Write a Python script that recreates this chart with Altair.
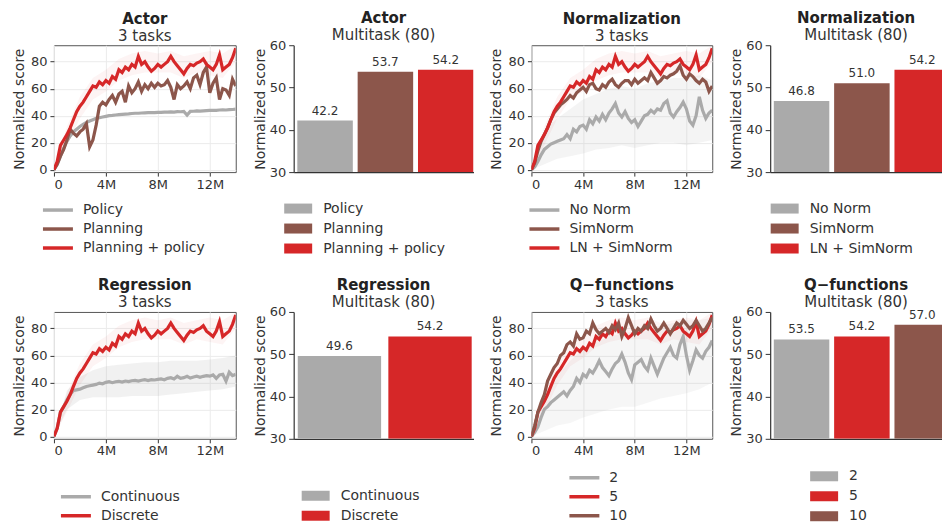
import altair as alt
import pandas as pd

FONT = "DejaVu Sans"
GREY = "#aaaaaa"
BROWN = "#8c564b"
RED = "#d62728"
TXT = "#333333"

# ---- x sampling (millions of steps) ----
T = [0, 0.25, 0.5, 0.75, 1, 1.25, 1.5, 1.75, 2, 2.25, 2.5, 2.75, 3, 3.25, 3.5, 3.75,
     4, 4.25, 4.5, 4.75, 5, 5.25, 5.5, 5.75, 6, 6.25, 6.5, 6.75, 7, 7.25, 7.5, 7.75,
     8, 8.25, 8.5, 8.75, 9, 9.25, 9.5, 9.75, 10, 10.25, 10.5, 10.75, 11, 11.25, 11.5, 11.75,
     12, 12.25, 12.5, 12.75, 13, 13.25, 13.5, 13.75, 14]
BAND_T = [0, 1, 2, 3, 4, 5, 6, 7, 8, 9, 10, 11, 12, 13, 14]

# ---- learning curves (normalized score) ----
default_curve = [0, 6, 18, 22, 26, 31, 37, 43, 47, 50, 54, 58, 62, 61, 65, 63, 66, 64, 69, 67,
                 74, 72, 76, 74, 78, 76, 84, 78, 80, 76, 73, 75, 78, 76, 78, 80, 84, 80, 77, 74,
                 71, 75, 78, 77, 79, 80, 82, 78, 76, 74, 78, 85, 74, 76, 78, 83, 90]
policy_curve = [0, 4, 10, 16, 21, 25, 28, 30, 32, 33.5, 35, 36, 37, 38, 38.5, 39, 39.5, 40, 40.2,
                40.5, 40.8, 41, 41.2, 41.3, 41.6, 41.8, 41.8, 42, 42.1, 42.2, 42.2, 42.3, 42.5,
                42.4, 42.6, 42.7, 42.8, 42.7, 43, 42.9, 43.1, 40.5, 43.2, 43.3, 43.5, 43.4, 43.6,
                43.8, 43.9, 44, 44, 44.2, 44.3, 44.2, 44.5, 44.6, 44.8]
planning_curve = [0, 4, 10, 15, 22, 30, 27, 25, 28, 30, 34, 17, 22, 33, 47, 50, 48, 52, 55, 50,
                  56, 58, 50, 62, 57, 60, 65, 58, 63, 60, 64, 61, 64, 62, 63, 66, 61, 52, 63, 60,
                  62, 65, 60, 68, 70, 63, 72, 76, 57, 64, 68, 52, 60, 59, 55, 67, 62]
nonorm_curve = [0, 2, 6, 11, 15, 17, 19, 20, 21, 22, 23, 26, 23, 30, 28, 32, 33, 30, 37, 34,
                39, 36, 41, 37, 42, 45, 49, 42, 39, 43, 38, 35, 37, 32, 36, 40, 41, 44, 42, 45,
                44, 49, 51, 42, 39, 43, 46, 50, 45, 36, 33, 40, 54, 44, 38, 42, 44]
simnorm_curve = [0, 5, 14, 21, 26, 31, 37, 42, 45, 48, 50, 52, 55, 53, 57, 59, 61, 58, 63, 64,
                 60, 59, 63, 61, 65, 67, 63, 61, 64, 66, 66, 63, 67, 64, 66, 68, 66, 72, 68, 64,
                 66, 69, 68, 70, 71, 73, 77, 70, 67, 71, 69, 66, 64, 67, 65, 58, 62]
continuous_curve = [0, 6, 18, 22, 27, 31, 34, 34.5, 35, 36, 37, 37.5, 38, 38.5, 39.5, 39, 40, 40.5,
                    39.8, 40.5, 40.8, 40.2, 41, 40.6, 41.2, 41.5, 41, 41.6, 42, 41.4, 42, 41.8,
                    42.2, 42.6, 42, 43, 43.5, 42.5, 44.5, 43, 43.5, 44.5, 43.2, 44, 44.6, 43.8,
                    44.5, 45, 44.6, 45.5, 43, 45.5, 46, 41, 47.5, 45, 46]
q2_curve = [0, 3, 7, 14, 20, 22, 25, 27, 29, 31, 33, 30, 34, 37, 43, 40, 46, 44, 49, 47,
            51, 56, 51, 48, 45, 50, 54, 56, 61, 55, 47, 42, 53, 55, 57, 52, 49, 58, 52, 46,
            52, 58, 62, 66, 60, 58, 68, 74, 60, 49, 56, 64, 60, 58, 63, 66, 71]
q10_curve = [0, 8, 18, 25, 31, 41, 46, 51, 54, 60, 62, 68, 70, 67, 76, 72, 73, 78, 76, 84,
             79, 76, 78, 80, 77, 82, 79, 84, 74, 80, 88, 82, 76, 80, 78, 82, 80, 87, 82, 78,
             80, 84, 80, 76, 80, 84, 82, 86, 83, 80, 82, 86, 82, 78, 80, 84, 88]

# ---- spread bands (lower / upper) ----
default_lo = [0, 18, 38, 52, 58, 66, 70, 72, 72, 72, 68, 72, 70, 68, 80]
default_hi = [0, 32, 54, 68, 74, 82, 86, 88, 86, 88, 84, 86, 88, 86, 92]
nonorm_lo = [0, 4, 8, 10, 12, 15, 16, 18, 16, 18, 20, 20, 18, 20, 22]
nonorm_hi = [0, 30, 38, 45, 52, 56, 60, 62, 60, 64, 66, 68, 68, 70, 66]
continuous_lo = [0, 20, 27, 29, 29, 29, 30, 30, 30, 31, 32, 33, 34, 35, 37]
continuous_hi = [0, 34, 44, 49, 52, 53, 54, 55, 55, 56, 56, 56, 57, 58, 60]
q2_lo = [0, 4, 8, 10, 14, 17, 20, 22, 22, 25, 28, 30, 32, 35, 40]
q2_hi = [0, 32, 45, 56, 65, 70, 74, 76, 78, 80, 82, 84, 86, 86, 88]

# ---- multitask bar values ----
actor_names = ["Policy", "Planning", "Planning + policy"]
actor_bars = [42.2, 53.7, 54.2]
norm_names = ["No Norm", "SimNorm", "LN + SimNorm"]
norm_bars = [46.8, 51.0, 54.2]
reg_names = ["Continuous", "Discrete"]
reg_bars = [49.6, 54.2]
q_names = ["2", "5", "10"]
q_bars = [53.5, 54.2, 57.0]

LINE_SYMBOL = "M-1.5,0H1.5"
RECT_SYMBOL = "M-1.4,-0.5H1.4V0.5H-1.4Z"


def x_line():
    return alt.X("t:Q", scale=alt.Scale(domain=[0, 14], nice=False, zero=False),
                 axis=alt.Axis(values=[0, 4, 8, 12],
                               labelExpr="datum.value == 0 ? '0' : datum.value + 'M'",
                               title=None, grid=True, gridColor="#ebebeb", domain=False,
                               tickSize=4, tickColor=TXT, labelFontSize=13, labelColor=TXT,
                               labelPadding=2))


def y_line(field):
    return alt.Y(f"{field}:Q", scale=alt.Scale(domain=[-1.8, 92.2], nice=False, zero=False),
                 axis=alt.Axis(values=[0, 20, 40, 60, 80], title="Normalized score",
                               titleFontSize=14, titleFontWeight="normal", titleColor=TXT,
                               titlePadding=4, grid=True, gridColor="#ebebeb", domain=False,
                               tickSize=4, tickColor=TXT, labelFontSize=13, labelColor=TXT,
                               labelPadding=3))


def line_panel(title, legend_names, colors, curves, draw_order, bands, width, lx, ly):
    legend = alt.Legend(title=None, orient="none", legendX=lx, legendY=ly, direction="vertical",
                        symbolType=LINE_SYMBOL, symbolSize=400, symbolStrokeWidth=3.5,
                        labelFontSize=14, labelColor=TXT, labelFont=FONT, labelOffset=13,
                        rowPadding=0, padding=0, labelLimit=300)
    cscale = alt.Scale(domain=legend_names, range=colors)
    layers = []
    for lo, hi, col, op in bands:
        bdf = pd.DataFrame({"t": BAND_T, "lo": lo, "hi": hi})
        layers.append(alt.Chart(bdf).mark_area(color=col, opacity=op, clip=True)
                      .encode(x=x_line(), y=y_line("lo"), y2="hi:Q"))
    for name in draw_order:
        df = pd.DataFrame({"t": T, "v": curves[name], "s": name})
        layers.append(alt.Chart(df).mark_line(strokeWidth=3.2, clip=True)
                      .encode(x=x_line(), y=y_line("v"),
                              color=alt.Color("s:N", scale=cscale, legend=legend)))
    return alt.layer(*layers).properties(
        width=width, height=127,
        title=alt.TitleParams(text=title, subtitle="3 tasks", offset=1.5),
        view=alt.ViewBackground(stroke="#555555", strokeWidth=1))


def bar_panel(title, names, values, colors, xdom, width, lx, ly):
    df = pd.DataFrame({"name": names, "value": values, "pos": list(range(len(names)))})
    base = alt.Chart(df).transform_calculate(lo="datum.pos - 0.46", hi="datum.pos + 0.46")
    xs = alt.Scale(domain=xdom, nice=False, zero=False)
    xa = alt.Axis(labels=False, ticks=False, title=None, grid=False, domainColor=TXT,
                  domainWidth=1.2)
    ys = alt.Scale(domain=[30, 60], nice=False, zero=False)
    ya = alt.Axis(values=[30, 40, 50, 60], title="Normalized score", titleFontSize=14,
                  titleFontWeight="normal", titleColor=TXT, titlePadding=2, grid=False,
                  domainColor=TXT, domainWidth=1.2, tickColor=TXT, tickSize=5,
                  labelFontSize=13, labelColor=TXT, labelPadding=3)
    legend = alt.Legend(title=None, orient="none", legendX=lx, legendY=ly, direction="vertical",
                        symbolType=RECT_SYMBOL, symbolSize=400, symbolStrokeWidth=0,
                        labelFontSize=14, labelColor=TXT, labelFont=FONT, labelOffset=15,
                        rowPadding=3, padding=0, labelLimit=300)
    bars = base.mark_bar(clip=True).encode(
        x=alt.X("lo:Q", scale=xs, axis=xa), x2="hi:Q",
        y=alt.Y("value:Q", scale=ys, axis=ya), y2=alt.datum(30),
        color=alt.Color("name:N", scale=alt.Scale(domain=names, range=colors), legend=legend))
    text = base.mark_text(baseline="bottom", dy=-3, fontSize=12, color=TXT).encode(
        x=alt.X("pos:Q", scale=xs, axis=xa),
        y=alt.Y("value:Q", scale=ys, axis=ya),
        text=alt.Text("value:Q", format=".1f"))
    return alt.layer(bars, text).properties(
        width=width, height=127,
        title=alt.TitleParams(text=title, subtitle="Multitask (80)", offset=-4))


p1 = line_panel("Actor", actor_names, [GREY, BROWN, RED],
                {"Policy": policy_curve, "Planning": planning_curve,
                 "Planning + policy": default_curve},
                ["Policy", "Planning", "Planning + policy"],
                [(default_lo, default_hi, RED, 0.05)], 182, -8, 153)
p2 = bar_panel("Actor", actor_names, actor_bars, [GREY, BROWN, RED], [-0.52, 2.46], 180, -5.5, 153.5)
p3 = line_panel("Normalization", norm_names, [GREY, BROWN, RED],
                {"No Norm": nonorm_curve, "SimNorm": simnorm_curve,
                 "LN + SimNorm": default_curve},
                ["No Norm", "SimNorm", "LN + SimNorm"],
                [(nonorm_lo, nonorm_hi, GREY, 0.13), (default_lo, default_hi, RED, 0.05)],
                181, 1, 153)
p4 = bar_panel("Normalization", norm_names, norm_bars, [GREY, BROWN, RED], [-0.52, 2.328], 172, 4.5, 153.5)

p5 = line_panel("Regression", reg_names, [GREY, RED],
                {"Continuous": continuous_curve, "Discrete": default_curve},
                ["Continuous", "Discrete"],
                [(continuous_lo, continuous_hi, GREY, 0.16), (default_lo, default_hi, RED, 0.05)],
                182, 10, 173)
p6 = bar_panel("Regression", reg_names, reg_bars, [GREY, RED], [-0.505, 1.48], 180, 12, 174)
p7 = line_panel("Q\u2212functions", q_names, [GREY, RED, BROWN],
                {"2": q2_curve, "5": default_curve, "10": q10_curve},
                ["2", "5", "10"],
                [(q2_lo, q2_hi, GREY, 0.1), (default_lo, default_hi, RED, 0.05)], 181, 41, 154)
p8 = bar_panel("Q\u2212functions", q_names, q_bars, [GREY, RED, BROWN], [-0.52, 2.328], 172, 44, 154.5)

chart = (alt.concat(p1, p2, p3, p4, p5, p6, p7, p8, columns=4,
                    spacing={"row": 140, "column": 58}, bounds="flush")
         .resolve_scale(color="independent", x="independent", y="independent")
         .resolve_legend(color="independent")
         .properties(padding={"left": 11, "top": 11, "right": 0, "bottom": 0})
         .configure(font=FONT)
         .configure_view(stroke=None)
         .configure_title(fontSize=15, subtitleFontSize=15, font=FONT, subtitleFont=FONT,
                          anchor="middle", frame="group", color="#222222",
                          subtitleColor=TXT, subtitlePadding=2)
         .configure_axis(labelFont=FONT, titleFont=FONT))

chart.save("out.html", embed_options={"renderer": "svg", "actions": False})
